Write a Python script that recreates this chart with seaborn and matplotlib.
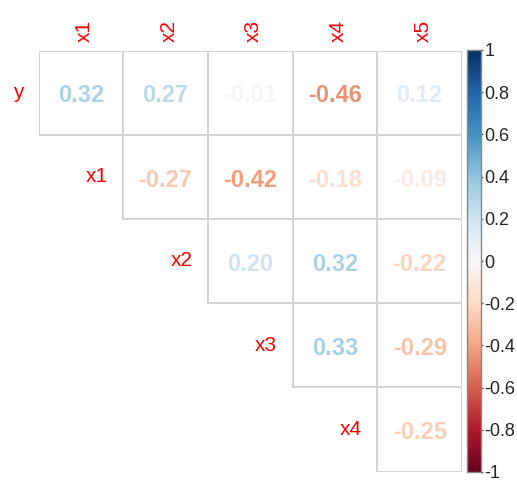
import numpy as np
import pandas as pd
import matplotlib
matplotlib.use("Agg")
import matplotlib.pyplot as plt
import seaborn as sns
from matplotlib.colors import ListedColormap, Normalize
from matplotlib.cm import ScalarMappable

row_labels = ["y", "x1", "x2", "x3", "x4"]
col_labels = ["x1", "x2", "x3", "x4", "x5"]
r_y = [0.32, 0.27, -0.01, -0.46, 0.12]
r_x1 = [np.nan, -0.27, -0.42, -0.18, -0.09]
r_x2 = [np.nan, np.nan, 0.20, 0.32, -0.22]
r_x3 = [np.nan, np.nan, np.nan, 0.33, -0.29]
r_x4 = [np.nan, np.nan, np.nan, np.nan, -0.25]
cbar_ticks = [-1, -0.8, -0.6, -0.4, -0.2, 0, 0.2, 0.4, 0.6, 0.8, 1]

df = pd.DataFrame([r_y, r_x1, r_x2, r_x3, r_x4], index=row_labels, columns=col_labels)
mask = df.isna()

sns.set_style("white")
plt.rcParams["font.family"] = ["Liberation Sans", "DejaVu Sans"]

W, H = 517, 482
fig = plt.figure(figsize=(W / 100, H / 100), dpi=100)
ax = fig.add_axes([38.5 / W, (H - 471.5) / H, 423.5 / W, 421 / H])

cmap = plt.get_cmap("RdBu")
norm = Normalize(vmin=-1, vmax=1)

sns.heatmap(df, mask=mask, cmap=ListedColormap(["white"]), linewidths=1.2,
            linecolor="#d4d4d4", annot=True, fmt=".2f", cbar=False, ax=ax,
            annot_kws={"fontsize": 17, "fontweight": "bold"})

# hide borders of masked (lower triangle) cells
mesh = ax.collections[0]
flat_mask = mask.values.flatten()
edge = [(0, 0, 0, 0) if m else (0.83, 0.83, 0.83, 1) for m in flat_mask]
mesh.set_edgecolor(edge)

vals = [v for v in df.values.flatten() if not np.isnan(v)]
for t, v in zip(ax.texts, vals):
    t.set_color(cmap(norm(v)))
    x, y = t.get_position()
    t.set_position((x, y + 0.04))

ax.set_xticks([])
ax.set_yticks([])
ax.set_xlabel("")
ax.set_ylabel("")
for s in ax.spines.values():
    s.set_visible(False)

for i, lab in enumerate(row_labels):
    ax.text(i - 0.18, i + 0.5, lab, ha="right", va="center", color="#ff0000",
            fontsize=15, clip_on=False)
for j, lab in enumerate(col_labels):
    ax.text(j + 0.54, -0.1, lab, ha="center", va="bottom", rotation=90,
            color="#ff0000", fontsize=15, clip_on=False)

cax = fig.add_axes([467 / W, (H - 472) / H, 14 / W, 422 / H])
cb = fig.colorbar(ScalarMappable(norm=norm, cmap=cmap), cax=cax)
cb.set_ticks(cbar_ticks)
cb.set_ticklabels([("%g" % v) for v in cbar_ticks])
cb.outline.set_edgecolor("#888888")
cb.outline.set_linewidth(1)
cax.tick_params(length=3, width=1, color="#555555", labelsize=13, pad=1,
                direction="inout")

fig.savefig("out.png", dpi=100)
